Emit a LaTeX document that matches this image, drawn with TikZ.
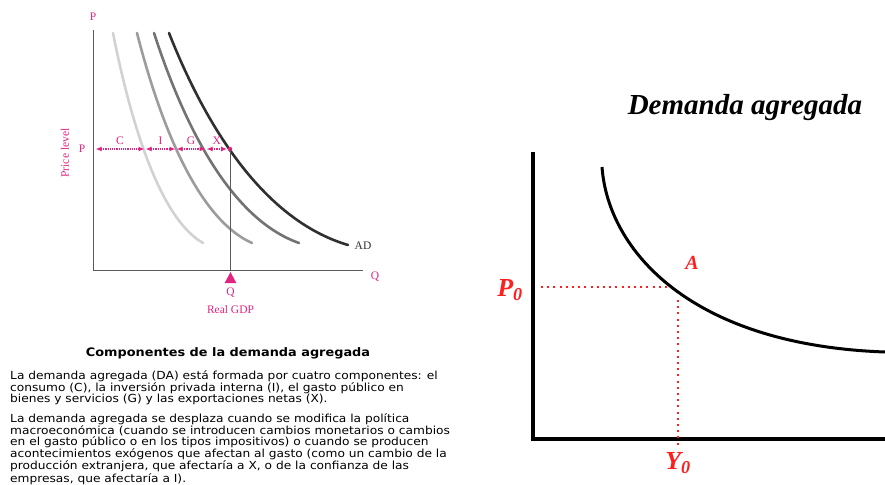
\documentclass[tikz,border=0pt]{standalone}
\usepackage{fontspec}
\setmainfont{Liberation Serif}
\newfontfamily\verdfont[FakeStretch=1.1]{DejaVu Sans}
\usetikzlibrary{arrows.meta,positioning}
\definecolor{dapink}{HTML}{E2237F}
\definecolor{dared}{HTML}{FF1F1F}
\definecolor{adlight}{HTML}{D2D2D2}
\definecolor{admid}{HTML}{9C9C9C}
\definecolor{addark}{HTML}{737373}
\definecolor{adblack}{HTML}{303030}
\definecolor{axgray}{HTML}{5A5A5A}

\begin{document}
\begin{tikzpicture}[
  x=1pt,y=-1pt,
  every node/.style={inner sep=0pt},
  lab/.style={text=dapink,font=\fontsize{11.5}{13}\selectfont},
  thinaxis/.style={draw=axgray,line width=0.9pt},
  adcurve/.style={line width=2.6pt,line cap=round},
  share/.style={{Latex[length=6pt,width=5pt]}-{Latex[length=6pt,width=5pt]},draw=dapink,densely dotted,line width=1.2pt,shorten <=0.5pt,shorten >=0.5pt},
  body/.style={anchor=north west,align=left,font=\verdfont\fontsize{11.1}{10.8}\selectfont},
  bigital/.style={text=dared,font=\bfseries\itshape\fontsize{26}{28}\selectfont},
  guide/.style={draw=dared,line width=2pt,dash pattern=on 2pt off 4.2pt}
]
\useasboundingbox (0,0) rectangle (885,484);
\fill[white] (0,0) rectangle (885,484);

% components chart
\coordinate (lo) at (93,270);
\coordinate (ltop) at (93,30);
\coordinate (lend) at (363,270);
\draw[thinaxis] (ltop) -- (lo) -- (lend);
\node[lab] (ptop) at (93,17) {P};
\node[lab] (qend) at (375,277) {Q};
\node[lab,rotate=90] (plevel) at (65,153) {Price level};
\node[lab] (pmark) at (82,149) {P};

\draw[adcurve,adlight] (113,33) .. controls (130,119) and (159,218) .. (203,243);
\draw[adcurve,admid] (137,33) .. controls (159,119) and (196,218) .. (252,243);
\draw[adcurve,addark] (154,33) .. controls (182,119) and (228,218) .. (299,243);
\draw[adcurve,adblack] (169,33) .. controls (203,119) and (260,219) .. (348,245);
\node[font=\fontsize{11.5}{13}\selectfont,text=adblack] (adlab) at (363,246) {AD};

\coordinate (s0) at (95,149);
\coordinate (s1) at (145,149);
\coordinate (s2) at (176,149);
\coordinate (s3) at (206,149);
\node[circle,fill=dapink,minimum size=4.5pt] (pa) at (230,149) {};
\draw[share] (s0) -- node[lab,above=3.5pt] (clab) {C} (s1);
\draw[share] (s1) -- node[lab,above=3.5pt] (ilab) {I} (s2);
\draw[share] (s2) -- node[lab,above=3.5pt] (glab) {G} (s3);
\draw[share] (s3) -- node[lab,above=3.5pt] (xlab) {X} (pa.west);
\draw[thinaxis] (pa.center) -- (pa |- lo);

\coordinate (qtip) at (230.5,272);
\fill[dapink] (qtip) -- ++(-5.8,11) -- ++(11.6,0) -- cycle;
\node[lab] (qmark) at (230.5,293) {Q};
\node[lab] (gdp) at (230.5,310) {Real GDP};

% text block
\node[font=\verdfont\bfseries\fontsize{11.7}{14}\selectfont,anchor=base] (comptitle) at (228,356) {Componentes de la demanda agregada};
\node[body] (para1) at (10,370.5) {La demanda agregada (DA) está formada por cuatro componentes: el\\
consumo (C), la inversión privada interna (I), el gasto público en\\
bienes y servicios (G) y las exportaciones netas (X).};
\node[body] (para2) at (10,413.5) {La demanda agregada se desplaza cuando se modifica la política\\
macroeconómica (cuando se introducen cambios monetarios o cambios\\
en el gasto público o en los tipos impositivos) o cuando se producen\\
acontecimientos exógenos que afectan al gasto (como un cambio de la\\
producción extranjera, que afectaría a X, o de la confianza de las\\
empresas, que afectaría a I).};

% aggregate demand chart
\node[font=\bfseries\itshape\fontsize{29}{31}\selectfont] (datitle) at (745,108) {Demanda agregada};
\coordinate (ro) at (533,439);
\coordinate (rtop) at (533,152);
\coordinate (rend) at (885,439);
\draw[line width=4pt] (rtop) -- (ro) -- (rend);
\draw[line width=3pt] (602,167) .. controls (608,250) and (690,345) .. (885,352);

\coordinate (pA) at (667,287);
\coordinate (yA) at (678,300);
\draw[guide] (pA) -- ([xshift=7pt]pA -| rtop);
\draw[guide] (yA) -- ([yshift=-9pt]yA |- ro);
\node[bigital] (pzero) at (510,290) {P\textsubscript{0}};
\node[bigital,font=\bfseries\itshape\fontsize{20}{22}\selectfont] (alab) at (692,263) {A};
\node[bigital] (yzero) at (678,463) {Y\textsubscript{0}};
\end{tikzpicture}
\end{document}
